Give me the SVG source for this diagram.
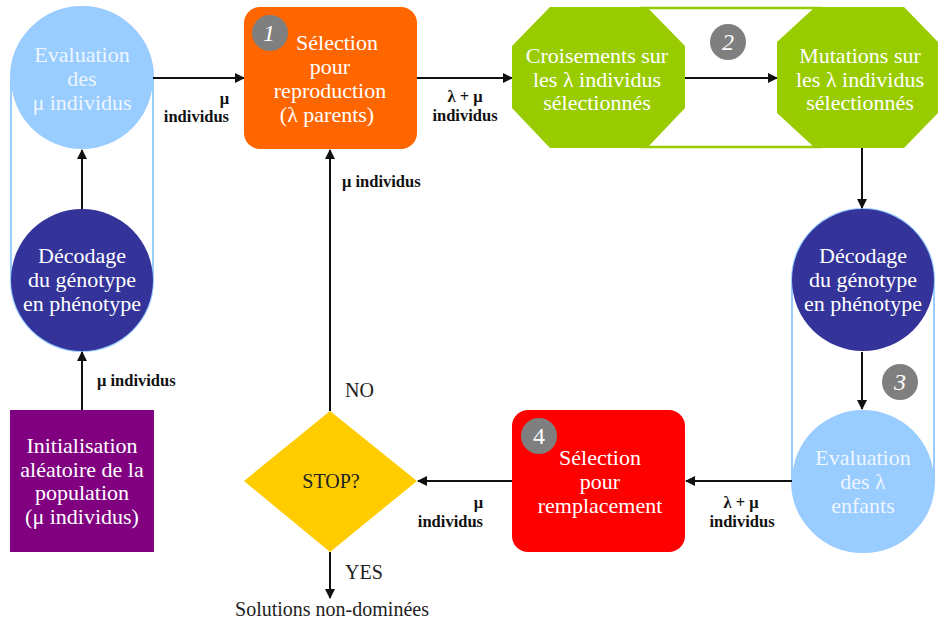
<svg xmlns="http://www.w3.org/2000/svg" width="939" height="621" viewBox="0 0 939 621">
<style>
.t{font-family:"Liberation Serif",serif;font-size:22px;text-anchor:middle;fill:#fff}
.tl{font-family:"Liberation Serif",serif;font-size:22px;text-anchor:middle;fill:#eef6ff}
.lb{font-family:"Liberation Serif",serif;font-size:16.5px;font-weight:bold;fill:#111}
.lr{font-family:"Liberation Serif",serif;font-size:20px;fill:#222}
.num{font-family:"Liberation Serif",serif;font-size:24px;font-style:italic;text-anchor:middle;fill:#fff}
.badge{fill:#7f7f7f}
.cn{stroke:#111;stroke-width:2;fill:none;marker-end:url(#ah)}
</style>
<defs>
<marker id="ah" viewBox="0 0 10 10" refX="9" refY="5" markerWidth="5" markerHeight="5" orient="auto" markerUnits="strokeWidth">
<path d="M0,0 L10,5 L0,10 z" fill="#111"/>
</marker>
</defs>
<rect width="939" height="621" fill="#fff"/>

<g id="group-left">
<rect x="11" y="7" width="142" height="344" rx="71" fill="none" stroke="#99ccff" stroke-width="2"/>
</g>
<g id="group-right">
<rect x="792" y="209" width="142" height="343" rx="71" fill="none" stroke="#99ccff" stroke-width="2"/>
</g>
<g id="group-green">
<line x1="640" y1="8" x2="822" y2="8" stroke="#99cc00" stroke-width="2.5"/>
<line x1="640" y1="147" x2="822" y2="147" stroke="#99cc00" stroke-width="2.5"/>
</g>

<g id="connectors">
<line class="cn" x1="82" y1="410" x2="82" y2="352"/>
<line class="cn" x1="82" y1="209" x2="82" y2="150"/>
<line class="cn" x1="153" y1="78" x2="244" y2="78"/>
<line class="cn" x1="417" y1="78" x2="512" y2="78"/>
<line class="cn" x1="685" y1="78" x2="777" y2="78"/>
<line class="cn" x1="862" y1="148" x2="862" y2="208"/>
<line class="cn" x1="862" y1="352" x2="862" y2="409"/>
<line class="cn" x1="792" y1="481" x2="686" y2="481"/>
<line class="cn" x1="512" y1="481" x2="418" y2="481"/>
<line class="cn" x1="330" y1="411" x2="330" y2="150"/>
<line class="cn" x1="330" y1="552" x2="330" y2="598"/>
<text class="lb" x="229" y="104" text-anchor="end">μ</text>
<text class="lb" x="229" y="122" text-anchor="end">individus</text>
<text class="lb" x="465" y="102" text-anchor="middle">λ + μ</text>
<text class="lb" x="465" y="121" text-anchor="middle">individus</text>
<text class="lb" x="342" y="187">μ individus</text>
<text class="lb" x="97" y="386">μ individus</text>
<text class="lb" x="741" y="508" text-anchor="middle">λ + μ</text>
<text class="lb" x="742" y="527" text-anchor="middle">individus</text>
<text class="lb" x="483" y="508" text-anchor="end">μ</text>
<text class="lb" x="483" y="527" text-anchor="end">individus</text>
<text class="lr" x="345" y="397">NO</text>
<text class="lr" x="345" y="579">YES</text>
<text class="lr" x="332" y="616" text-anchor="middle">Solutions non-dominées</text>
</g>

<g id="eval-mu">
<circle cx="82" cy="78" r="71" fill="#99ccff"/>
<text class="tl" x="82" y="62">Evaluation</text>
<text class="tl" x="82" y="86">des</text>
<text class="tl" x="82" y="110">μ individus</text>
</g>

<g id="decode-left">
<circle cx="82" cy="280" r="71" fill="#333399"/>
<text class="t" x="82" y="263">Décodage</text>
<text class="t" x="82" y="287">du génotype</text>
<text class="t" x="82" y="311">en phénotype</text>
</g>

<g id="init">
<rect x="10" y="410" width="144" height="142" fill="#800080"/>
<text class="t" x="82" y="453">Initialisation</text>
<text class="t" x="82" y="477">aléatoire de la</text>
<text class="t" x="82" y="500">population</text>
<text class="t" x="82" y="524">(μ individus)</text>
</g>

<g id="select-repro">
<rect x="244" y="7" width="173" height="142" rx="16" fill="#ff6600"/>
<circle class="badge" cx="270" cy="33" r="18"/>
<text class="num" x="269" y="41">1</text>
<text class="t" x="337" y="50">Sélection</text>
<text class="t" x="330" y="74">pour</text>
<text class="t" x="330" y="98">reproduction</text>
<text class="t" x="327" y="122">(λ parents)</text>
</g>

<g id="croisements">
<polygon points="550,7 647,7 685,46 685,108 647,148 550,148 512,108 512,46" fill="#99cc00"/>
<text class="t" x="597" y="63">Croisements sur</text>
<text class="t" x="597" y="87">les λ individus</text>
<text class="t" x="597" y="110">sélectionnés</text>
</g>

<g id="badge2">
<circle class="badge" cx="728" cy="42" r="18"/>
<text class="num" x="728" y="50">2</text>
</g>

<g id="mutations">
<polygon points="815,7 904,7 938,42 938,113 904,148 815,148 777,113 777,42" fill="#99cc00"/>
<text class="t" x="860" y="63">Mutations sur</text>
<text class="t" x="860" y="87">les λ individus</text>
<text class="t" x="860" y="110">sélectionnés</text>
</g>

<g id="decode-right">
<circle cx="863" cy="280" r="71" fill="#333399"/>
<text class="t" x="863" y="263">Décodage</text>
<text class="t" x="863" y="287">du génotype</text>
<text class="t" x="863" y="311">en phénotype</text>
</g>

<g id="badge3">
<circle class="badge" cx="900" cy="382" r="18"/>
<text class="num" x="900" y="390">3</text>
</g>

<g id="eval-lambda">
<circle cx="863" cy="481" r="71" fill="#99ccff"/>
<text class="tl" x="863" y="465">Evaluation</text>
<text class="tl" x="863" y="489">des λ</text>
<text class="tl" x="863" y="513">enfants</text>
</g>

<g id="select-replace">
<rect x="512" y="410" width="173" height="142" rx="16" fill="#ff0000"/>
<circle class="badge" cx="539" cy="436" r="18"/>
<text class="num" x="539" y="444" style="font-style:normal">4</text>
<text class="t" x="600" y="465">Sélection</text>
<text class="t" x="600" y="489">pour</text>
<text class="t" x="600" y="513">remplacement</text>
</g>

<g id="stop">
<polygon points="330,411 417,481 330,552 244,481" fill="#ffcc00"/>
<text class="lr" x="331" y="488" text-anchor="middle" fill="#333">STOP?</text>
</g>
</svg>
